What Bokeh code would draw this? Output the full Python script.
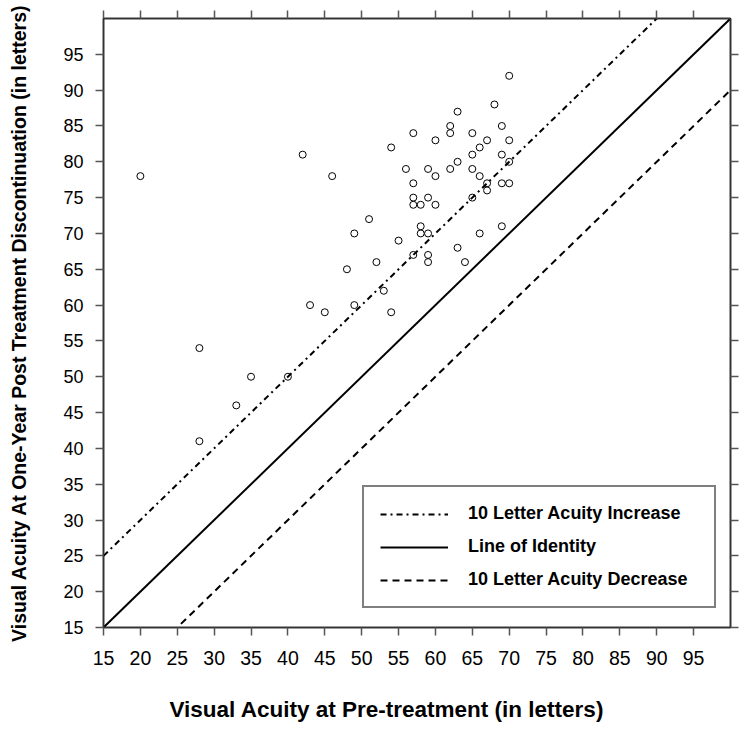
from bokeh.plotting import figure
from bokeh.models import Range1d, FixedTicker, LinearAxis, Legend, LegendItem, Title
from bokeh.embed import file_html
from bokeh.resources import INLINE

# Visual acuity (letters): pre-treatment vs one year post treatment discontinuation
pre_treatment = [20, 28, 28, 33, 35, 40, 42, 43, 45, 46, 48, 49, 49, 51, 52, 53, 54, 54,
                 55, 56, 57, 57, 57, 57, 57, 58, 58, 58, 59, 59, 59, 59, 59, 60, 60, 60,
                 62, 62, 62, 63, 63, 63, 64, 65, 65, 65, 65, 66, 66, 66, 67, 67, 67, 68,
                 69, 69, 69, 69, 70, 70, 70, 70]
one_year_post = [78, 54, 41, 46, 50, 50, 81, 60, 59, 78, 65, 70, 60, 72, 66, 62, 82, 59,
                 69, 79, 84, 77, 75, 74, 67, 74, 71, 70, 79, 75, 70, 67, 66, 83, 78, 74,
                 85, 84, 79, 87, 80, 68, 66, 84, 81, 79, 75, 82, 78, 70, 83, 77, 76, 88,
                 85, 81, 77, 71, 92, 83, 80, 77]

tick_values = [15, 20, 25, 30, 35, 40, 45, 50, 55, 60, 65, 70, 75, 80, 85, 90, 95]

# reference lines
ref_x = [15, 100]
identity_y = [15, 100]
increase_y = [25, 110]
decrease_y = [5, 90]

FONT = "Liberation Sans"

p = figure(frame_width=627, frame_height=609,
           x_range=Range1d(15, 100), y_range=Range1d(15, 100),
           output_backend="svg", toolbar_location=None,
           min_border_left=103, min_border_right=12, min_border_top=18, min_border_bottom=100)
p.grid.visible = False
p.outline_line_color = "black"
p.outline_line_width = 1.5
p.background_fill_color = "white"
p.border_fill_color = "white"

ticker = FixedTicker(ticks=tick_values)

xa = p.below[0]
ya = p.left[0]
for ax in (xa, ya):
    ax.ticker = ticker
    ax.minor_tick_line_color = None
    ax.major_tick_out = 8
    ax.major_tick_in = 0
    ax.major_tick_line_color = "#555555"
    ax.major_tick_line_width = 1.5
    ax.axis_line_color = "#333333"
    ax.axis_line_width = 1.5
    ax.major_label_text_font = FONT
    ax.major_label_text_color = "black"

xa.major_label_text_font_size = "19.5px"
xa.major_label_standoff = 15
ya.major_label_text_font_size = "18px"
ya.major_label_standoff = 12

ya.axis_label = "Visual Acuity At One-Year Post Treatment Discontinuation (in letters)"
ya.axis_label_text_font = FONT
ya.axis_label_text_font_style = "bold"
ya.axis_label_text_font_size = "19.5px"
ya.axis_label_text_color = "black"
ya.axis_label_standoff = 30

# mirrored tick marks on top and right (drawn as minor ticks so they carry no labels)
mirror_ticker = FixedTicker(ticks=[], minor_ticks=tick_values)
for loc in ("above", "right"):
    ax = LinearAxis(ticker=mirror_ticker,
                    major_tick_line_color=None, major_label_standoff=0,
                    minor_tick_out=8, minor_tick_in=0, minor_tick_line_color="#555555",
                    minor_tick_line_width=1.5,
                    axis_line_color="#333333", axis_line_width=1.5)
    p.add_layout(ax, loc)

# invisible spacer below the x axis to push the x title down
spacer = LinearAxis(ticker=FixedTicker(ticks=[tick_values[0]]), axis_line_color=None,
                    major_tick_line_color="white", minor_tick_line_color=None,
                    major_label_text_color=None,
                    major_tick_out=22, major_tick_in=0, major_label_standoff=0)
p.add_layout(spacer, "below")

r_inc = p.line(ref_x, increase_y, line_color="black", line_width=2, line_dash="6 4 2 4")
r_id = p.line(ref_x, identity_y, line_color="black", line_width=2)
r_dec = p.line(ref_x, decrease_y, line_color="black", line_width=2, line_dash="7 5")

p.scatter(pre_treatment, one_year_post, marker="circle", size=7,
          fill_color=None, line_color="black", line_width=1)

legend = Legend(items=[
    LegendItem(label="10 Letter Acuity Increase", renderers=[r_inc]),
    LegendItem(label="Line of Identity", renderers=[r_id]),
    LegendItem(label="10 Letter Acuity Decrease", renderers=[r_dec]),
], location=(259, 19), glyph_width=68, glyph_height=20, label_height=20,
   label_width=230, label_standoff=20, spacing=12, padding=16, margin=0,
   label_text_font=FONT, label_text_font_style="bold", label_text_font_size="18px",
   label_text_color="black", border_line_color="black", border_line_width=2,
   background_fill_color="white", background_fill_alpha=1)
p.add_layout(legend, "center")

xtitle = Title(text="Visual Acuity at Pre-treatment (in letters)", align="left", offset=66,
               text_font=FONT, text_font_style="bold", text_font_size="22.5px",
               text_color="black")
if "standoff" in Title.properties():
    xtitle.standoff = 10
p.add_layout(xtitle, "below")

open("out.html", "w").write(file_html(p, INLINE))
